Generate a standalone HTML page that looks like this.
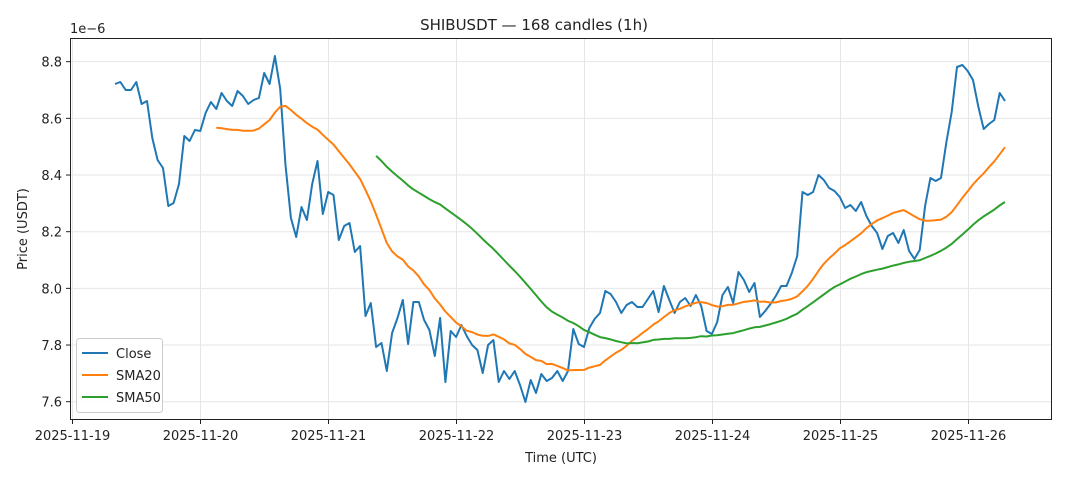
<!DOCTYPE html>
<html><head><meta charset="utf-8"><style>
body{margin:0;background:#fff;}
svg text{font-family:"DejaVu Sans","Liberation Sans",sans-serif;fill:#222;}
</style></head><body>
<svg id="s" width="1068" height="481" xmlns="http://www.w3.org/2000/svg">
<rect width="1068" height="481" fill="#fff"/>
<g id="grid" stroke="#e6e6e6" stroke-width="1"></g>
<g id="lines" fill="none" stroke-width="2" stroke-linejoin="round"></g>
<rect x="70.5" y="38.5" width="981" height="381" fill="none" stroke="#222" stroke-width="1"/>
<g id="ticks" font-size="13"></g>
<text x="534" y="30" font-size="15" text-anchor="middle">SHIBUSDT — 168 candles (1h)</text>
<text x="70" y="33" font-size="13">1e−6</text>
<text x="561" y="462" font-size="13" text-anchor="middle">Time (UTC)</text>
<text transform="translate(27,229) rotate(-90)" font-size="13" text-anchor="middle">Price (USDT)</text>
<g>
<rect x="76.5" y="338.5" width="86" height="74" rx="3" fill="#fff" fill-opacity="0.85" stroke="#ccc"/>
<line x1="82" y1="353" x2="108" y2="353" stroke="#1f77b4" stroke-width="2"/>
<text x="116" y="358" font-size="13">Close</text>
<line x1="82" y1="375" x2="108" y2="375" stroke="#ff7f0e" stroke-width="2"/>
<text x="116" y="380" font-size="13">SMA20</text>
<line x1="82" y1="397" x2="108" y2="397" stroke="#2ca02c" stroke-width="2"/>
<text x="116" y="402" font-size="13">SMA50</text>
</g>
</svg>
<script>
var ns="http://www.w3.org/2000/svg";
function el(p,t,a,txt){var e=document.createElementNS(ns,t);for(var k in a)e.setAttribute(k,a[k]);if(txt)e.textContent=txt;document.getElementById(p).appendChild(e);return e;}
var dates=["2025-11-19","2025-11-20","2025-11-21","2025-11-22","2025-11-23","2025-11-24","2025-11-25","2025-11-26"];
for(var i=0;i<8;i++){var x=72.5+128*i;el("grid","line",{x1:x,y1:39,x2:x,y2:419});el("ticks","line",{x1:x,y1:420,x2:x,y2:424,stroke:"#222"});el("ticks","text",{x:x,y:440,"text-anchor":"middle"},dates[i]);}
var yl=["7.6","7.8","8.0","8.2","8.4","8.6","8.8"];
for(var j=0;j<7;j++){var y=401.7-56.67*j;el("grid","line",{x1:71,y1:y,x2:1051,y2:y});el("ticks","line",{x1:66,y1:y,x2:70,y2:y,stroke:"#222"});el("ticks","text",{x:62,y:y+5,"text-anchor":"end"},yl[j]);}
var c=[84,82,90,90,82,104,101,138,160,168,206,203,184,136,141,130,131,113,102,109,93,101,106,91,96,104,100,98,73,84,56,89,165,218,237,207,220,184,161,214,192,195,240,226,223,252,246,316,303,347,343,371,333,318,300,344,302,302,320,330,356,318,382,331,337,325,336,345,350,373,345,340,382,371,379,371,385,402,380,393,374,381,378,371,381,371,329,344,347,328,319,313,291,294,302,313,305,302,307,307,299,291,312,286,300,313,302,298,306,295,306,331,334,322,295,287,303,272,280,292,283,317,311,304,296,286,286,273,256,192,195,192,175,180,188,191,197,208,205,211,202,216,226,233,249,236,233,243,230,251,259,250,206,178,181,178,142,112,67,65,71,80,107,129,124,120,93,101];
var n=c.length,x0=115,x1=1005;
function X(i){return x0+(x1-x0)*i/(n-1);}
function path(arr,start){var d="";for(var i=start;i<arr.length;i++){d+=(i==start?"M":"L")+X(i).toFixed(1)+","+arr[i].toFixed(1);}return d;}
function sma(w){var r=[];for(var i=0;i<n;i++){if(i<w-1){r.push(0);continue;}var s=0;for(var k=i-w+1;k<=i;k++)s+=c[k];r.push(s/w);}return r;}
el("lines","path",{d:path(c,0),stroke:"#1f77b4"});
el("lines","path",{d:path(sma(20),19),stroke:"#ff7f0e"});
el("lines","path",{d:path(sma(50),49),stroke:"#2ca02c"});
</script>
</body></html>
